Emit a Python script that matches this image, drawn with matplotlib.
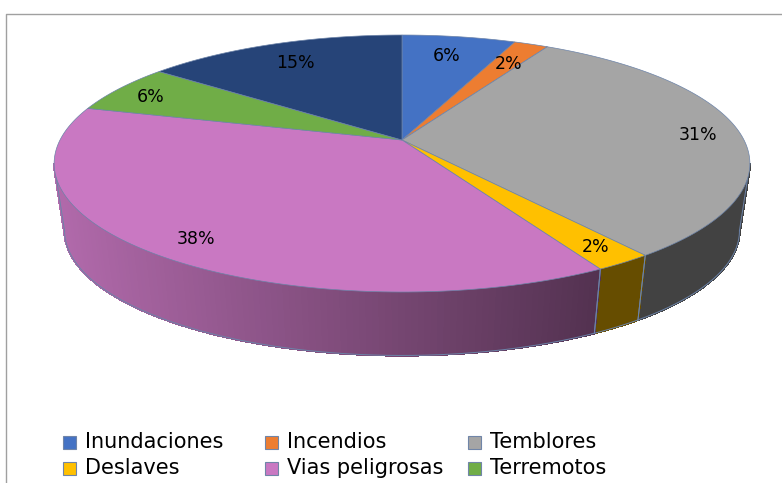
# Pie chart with a tilted 3D look, drawn on a pixel-sized axes
import numpy as np
import matplotlib
matplotlib.use('Agg')
import matplotlib.pyplot as plt
from matplotlib.patches import Polygon, Rectangle

categories = ['Inundaciones', 'Incendios', 'Temblores', 'Deslaves', 'Vias peligrosas', 'Terremotos', 'Desconocido']
values = [6.3, 1.9, 31.4, 2.3, 37.4, 6.2, 14.5]
pct_labels = ['6%', '2%', '31%', '2%', '38%', '6%', '15%']
colors = ['#4472C4', '#ED7D31', '#A5A5A5', '#FFC000', '#C978C2', '#70AD47', '#264478']
legend_names = categories[:6]

label_pos = [(447, 56), (509, 64), (698, 135), (596, 247), (196, 239), (151, 97), (295, 63)]
legend_x = [63, 265, 468]
legend_y = [442, 468]

# Projection of the disc: apex, radii and perspective
CX, TOP_Y, BOTTOM_Y = 402, 140, 208
RX, RY, K = 342, 124.2, 0.183
WALL_SCALE = 0.97
EDGE = '#6C83A8'
FONT = 'DejaVu Sans'

# the rim is widest here, walls are only seen between these two fractions
WALL_FROM = np.arccos(-K) / (2 * np.pi)
WALL_TO = 1 - WALL_FROM


def project(frac, base_y=TOP_Y, scale=1.0):
    """Map a fraction of the pie (clockwise from 12 o'clock) to pixel coordinates."""
    t = 2 * np.pi * np.asarray(frac)
    u, v = np.sin(t), np.cos(t)
    w = 1 + K * v
    return CX + scale * RX * u / w, base_y - scale * RY * v / w


def wall_color(base, x):
    """Side walls: dark flat shade, the big purple slice fades towards the right."""
    rgb = np.array(matplotlib.colors.to_rgb(base))
    if base == '#C978C2':
        pos = np.clip((x - 54) / 560, 0, 1)
        return rgb * (0.88 - 0.48 * pos)
    return rgb * 0.4


fig = plt.figure(figsize=(7.82, 4.83), dpi=100)
ax = fig.add_axes([0, 0, 1, 1])
ax.set_xlim(0, 782)
ax.set_ylim(483, 0)
ax.axis('off')

# chart frame
ax.plot([5.5, 5.5, 782], [483, 13.5, 13.5], color='#A0A0A0', lw=1.0, solid_capstyle='butt')

edges = np.cumsum([0] + values) / np.sum(values)

# side walls first
for start, end, color in zip(edges[:-1], edges[1:], colors):
    lo, hi = max(start, WALL_FROM), min(end, WALL_TO)
    if hi <= lo:
        continue
    steps = np.linspace(lo, hi, max(int((hi - lo) * 400), 2) + 1)
    for a, b in zip(steps[:-1], steps[1:]):
        fr = np.array([a, b])
        tx, ty = project(fr)
        bx, by = project(fr, BOTTOM_Y, WALL_SCALE)
        c = wall_color(color, tx.mean())
        ax.add_patch(Polygon(np.c_[np.r_[tx, bx[::-1]], np.r_[ty, by[::-1]]],
                             fc=c, ec=c, lw=1.0, antialiased=False, zorder=2))
    # outline of the bottom rim and the slice boundaries
    bx, by = project(np.linspace(lo, hi, 60), BOTTOM_Y, WALL_SCALE)
    ax.plot(bx, by, color=EDGE, lw=0.7, zorder=3)
    for f in (lo, hi):
        tx, ty = project(f)
        bx, by = project(f, BOTTOM_Y, WALL_SCALE)
        ax.plot([tx, bx], [ty, by], color=EDGE, lw=0.7, zorder=3)

# top face
for start, end, color in zip(edges[:-1], edges[1:], colors):
    px, py = project(np.linspace(start, end, 120))
    ax.add_patch(Polygon(np.c_[np.r_[CX, px], np.r_[TOP_Y, py]], fc=color, ec=EDGE, lw=0.5, zorder=4))

for text, (x, y) in zip(pct_labels, label_pos):
    ax.text(x, y, text, ha='center', va='center', fontsize=12.5, color='black', family=FONT, zorder=5)

# legend, row by row
for i, (name, color) in enumerate(zip(legend_names, colors)):
    x = legend_x[i % 3]
    y = legend_y[i // 3]
    ax.add_patch(Rectangle((x, y - 6.5), 13, 13, fc=color, ec='#7085A8', lw=0.8, zorder=5))
    ax.text(x + 22, y, name, ha='left', va='center', fontsize=15, color='black', family=FONT, zorder=5)

fig.savefig('out.png', dpi=100)
